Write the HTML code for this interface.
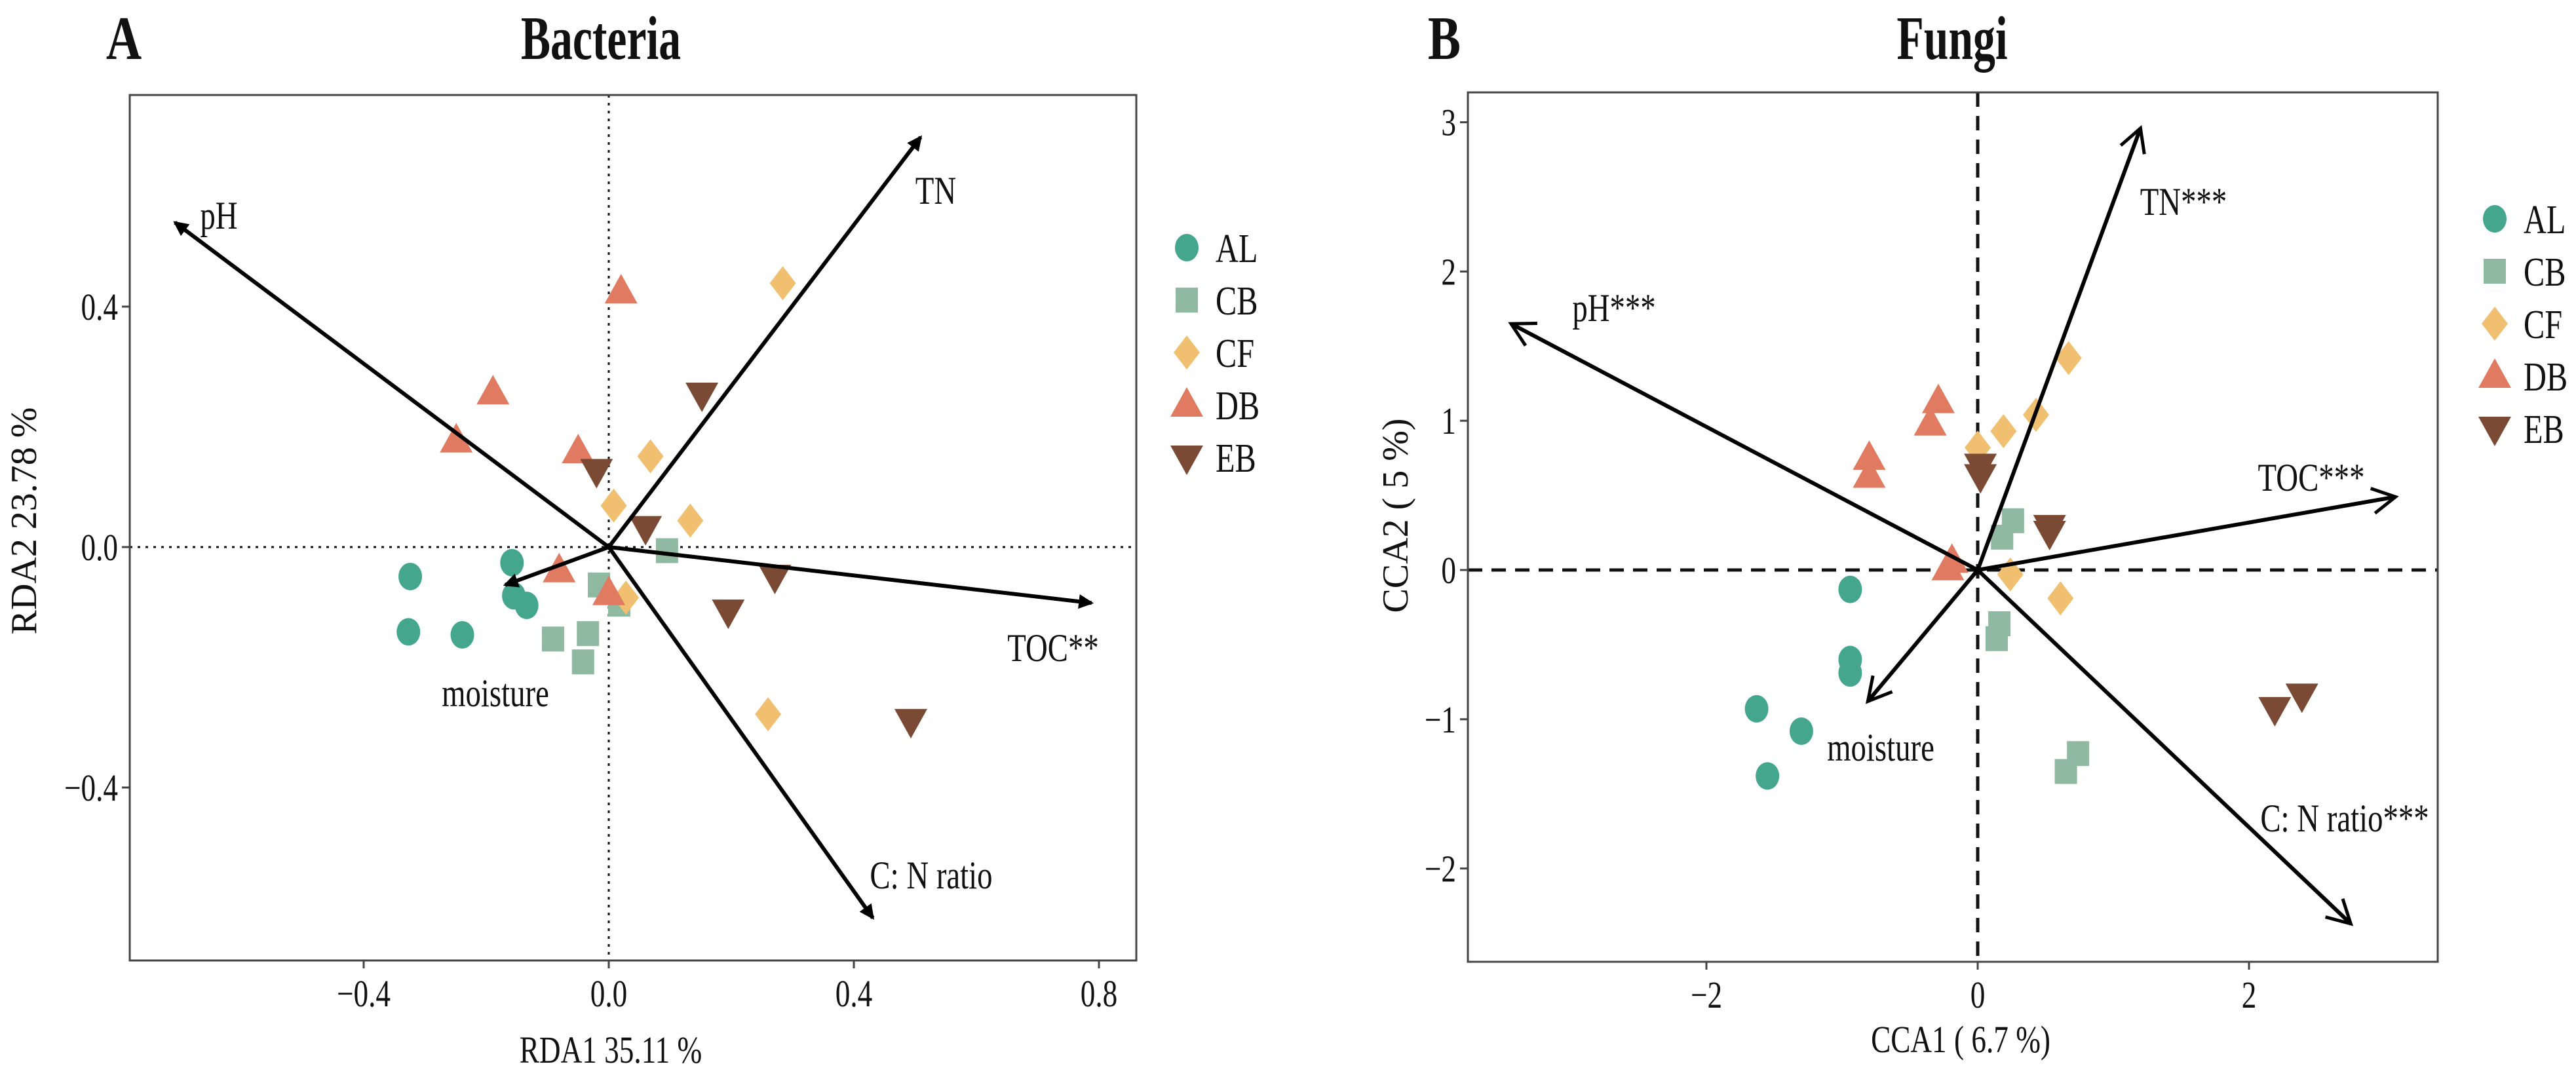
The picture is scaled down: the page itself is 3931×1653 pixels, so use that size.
<!DOCTYPE html>
<html><head><meta charset="utf-8"><style>
html,body{margin:0;padding:0;background:#fff;}
svg{display:block;font-family:"Liberation Serif",serif;}
</style></head><body>
<svg id="fig" width="3931" height="1653" viewBox="0 0 3931 1653" xmlns="http://www.w3.org/2000/svg"></svg>
<script>
// ---------- Panel A data (RDA, bacteria) ----------
const groups = ["AL","CB","CF","DB","EB"];
const colors = ["#43a68d","#8fb9a0","#f0c070","#e07a60","#7b4a35"];
const shapes = ["circle","square","diamond","up","down"];
const aALx = [-0.324,-0.327,-0.239,-0.158,-0.155,-0.134];
const aALy = [-0.049,-0.141,-0.146,-0.026,-0.081,-0.097];
const aCBx = [-0.091,-0.034,-0.042,-0.016,0.017,0.095];
const aCBy = [-0.153,-0.144,-0.191,-0.063,-0.095,-0.006];
const aCFx = [0.284,0.068,0.008,0.133,0.028,0.26];
const aCFy = [0.439,0.151,0.069,0.044,-0.084,-0.278];
const aDBx = [0.02,-0.189,-0.249,-0.05,-0.081,0.0];
const aDBy = [0.425,0.257,0.177,0.159,-0.039,-0.077];
const aEBx = [0.152,-0.02,0.06,0.271,0.195,0.493];
const aEBy = [0.254,0.127,0.032,-0.049,-0.107,-0.289];
const aVecNames = ["pH","TN","TOC**","C: N ratio","moisture"];
const aVecX = [-0.708,0.509,0.788,0.431,-0.169];
const aVecY = [0.54,0.682,-0.093,-0.617,-0.063];
const aXTicks = [-0.4,0.0,0.4,0.8];
const aXTickLabels = ["\u22120.4","0.0","0.4","0.8"];
const aYTicks = [0.4,0.0,-0.4];
const aYTickLabels = ["0.4","0.0","\u22120.4"];

// ---------- Panel B data (CCA, fungi) ----------
const bALx = [-0.94,-0.94,-0.94,-1.63,-1.30,-1.55];
const bALy = [-0.13,-0.60,-0.69,-0.93,-1.08,-1.38];
const bCBx = [0.26,0.18,0.16,0.14,0.74,0.65];
const bCBy = [0.33,0.22,-0.36,-0.46,-1.23,-1.35];
const bCFx = [0.67,0.43,0.19,0.0,0.24,0.61];
const bCFy = [1.42,1.04,0.93,0.82,-0.03,-0.19];
const bDBx = [-0.29,-0.35,-0.80,-0.80,-0.19,-0.22];
const bDBy = [1.13,0.98,0.75,0.63,0.06,0.01];
const bEBx = [0.02,0.02,0.53,0.53,2.19,2.39];
const bEBy = [0.70,0.63,0.29,0.25,-0.93,-0.84];
const bVecNames = ["TN***","pH***","TOC***","C: N ratio***","moisture"];
const bVecX = [1.2,-3.44,3.08,2.75,-0.81];
const bVecY = [2.96,1.65,0.49,-2.37,-0.88];
const bXTicks = [-2,0,2];
const bXTickLabels = ["\u22122","0","2"];
const bYTicks = [3,2,1,0,-1,-2];
const bYTickLabels = ["3","2","1","0","\u22121","\u22122"];

const NS="http://www.w3.org/2000/svg";
const svg=document.getElementById('fig');
function el(tag,attrs,parent){const e=document.createElementNS(NS,tag);for(const k in attrs)e.setAttribute(k,attrs[k]);(parent||svg).appendChild(e);return e;}
function txt(x,y,s,size,anchor,parent,opt){
  opt=opt||{};
  const t=el('text',{x:0,y:0,'font-size':size,'text-anchor':anchor||'start',fill:'#111',
    'font-weight':opt.bold?'bold':'normal',
    transform:`translate(${x},${y}) rotate(${opt.rot||0}) scale(${opt.sx||0.78},1)`},parent);
  t.textContent=s;return t;
}
function marker(shape,cx,cy,color,parent){
  let m;
  if(shape==="circle") m=el('ellipse',{cx:cx,cy:cy,rx:18,ry:21,fill:color},parent);
  else if(shape==="square") m=el('rect',{x:cx-17,y:cy-19,width:34,height:38,fill:color},parent);
  else if(shape==="diamond") m=el('polygon',{points:`${cx},${cy-26} ${cx+20},${cy} ${cx},${cy+26} ${cx-20},${cy}`,fill:color},parent);
  else if(shape==="up") m=el('polygon',{points:`${cx},${cy-27} ${cx+25},${cy+18} ${cx-25},${cy+18}`,fill:color},parent);
  else m=el('polygon',{points:`${cx},${cy+27} ${cx+25},${cy-18} ${cx-25},${cy-18}`,fill:color},parent);
  return m;
}

function panel(cfg){
  const g=el('g',{});
  
  
  const sx=v=>cfg.x0+v*cfg.kx, sy=v=>cfg.y0-v*cfg.ky;
  const pl=txt(cfg.letterX,cfg.titleY,cfg.letter,94,'middle',g,{bold:true,sx:0.8});
  
  const tt=txt(cfg.titleX,cfg.titleY,cfg.title,94,'middle',g,{bold:true,sx:0.72});
  
  const hl=el('line',{x1:cfg.box[0],x2:cfg.box[2],y1:sy(0),y2:sy(0),stroke:'#111','stroke-width':cfg.refW,'stroke-dasharray':cfg.dash},g);
  
  const vl=el('line',{x1:sx(0),x2:sx(0),y1:cfg.box[1],y2:cfg.box[3],stroke:'#111','stroke-width':cfg.refW,'stroke-dasharray':cfg.dash},g);
  
  const xs=cfg.px, ys=cfg.py;
  for(let gi=0;gi<groups.length;gi++){
    for(let i=0;i<xs[gi].length;i++){
      const m=marker(shapes[gi],sx(xs[gi][i]),sy(ys[gi][i]),colors[gi],g);
      
      
    }
  }
  for(let i=0;i<cfg.vn.length;i++){
    const x2=sx(cfg.vx[i]), y2=sy(cfg.vy[i]);
    const ln=el('line',{x1:sx(0),y1:sy(0),x2:x2,y2:y2,stroke:'#000','stroke-width':6},g);
    
    
    const ang=Math.atan2(y2-sy(0),x2-sx(0));
    const L=cfg.open?40:20, a=cfg.open?0.5:0.45;
    const p1=[x2-L*Math.cos(ang-a),y2-L*Math.sin(ang-a)], p2=[x2-L*Math.cos(ang+a),y2-L*Math.sin(ang+a)];
    let h;
    if(cfg.open) h=el('polyline',{points:`${p1} ${x2},${y2} ${p2}`,fill:'none',stroke:'#000','stroke-width':5},g);
    else h=el('polygon',{points:`${p1} ${x2},${y2} ${p2}`,fill:'#000',stroke:'#000','stroke-width':3},g);
    
    const lt=txt(cfg.lab[i][0],cfg.lab[i][1],cfg.vn[i],60,'middle',g);
    
  }
  const b=cfg.box;
  const fr=el('rect',{x:b[0],y:b[1],width:b[2]-b[0],height:b[3]-b[1],fill:'none',stroke:'#444','stroke-width':3},g);
  
  cfg.xt.forEach((v,i)=>{
    const tk=el('line',{x1:sx(v),x2:sx(v),y1:b[3],y2:b[3]+12,stroke:'#444','stroke-width':3},g);
    
    const tl=txt(sx(v),b[3]+70,cfg.xtl[i],58,'middle',g);
    
  });
  cfg.yt.forEach((v,i)=>{
    const tk=el('line',{x1:b[0]-12,x2:b[0],y1:sy(v),y2:sy(v),stroke:'#444','stroke-width':3},g);
    
    const tl=txt(b[0]-18,sy(v)+20,cfg.ytl[i],58,'end',g);
    
  });
  const xa=txt(cfg.xTitle[1],cfg.xTitle[2],cfg.xTitle[0],58,'middle',g);
  
  const ya=txt(cfg.yTitle[1],cfg.yTitle[2],cfg.yTitle[0],56,'middle',g,{rot:-90,sx:1.0});
  
  groups.forEach((gname,i)=>{
    const y=cfg.leg[1]+i*80;
    const lg=el('g',{},g);
    
    
    marker(shapes[i],cfg.leg[0],y,colors[i],lg);
    txt(cfg.leg[0]+44,y+22,gname,62,'start',lg);
  });
}

panel({name:'panel-a-bacteria',letter:'A',letterX:189,title:'Bacteria',titleX:917,titleY:90,
  x0:929,kx:935,y0:835,ky:917.5,box:[198,145,1734,1466],dash:'4 8',refW:3,open:false,
  px:[aALx,aCBx,aCFx,aDBx,aEBx],py:[aALy,aCBy,aCFy,aDBy,aEBy],
  vn:aVecNames,vx:aVecX,vy:aVecY,
  lab:[[334,349],[1428,311],[1607,1009],[1421,1356],[756,1078]],
  xt:aXTicks,xtl:aXTickLabels,yt:aYTicks,ytl:aYTickLabels,
  xTitle:['RDA1 35.11  %',932,1622],yTitle:['RDA2 23.78  %',55,795],leg:[1811,378]});

panel({name:'panel-b-fungi',letter:'B',letterX:2204,title:'Fungi',titleX:2979,titleY:90,
  x0:3018,kx:207,y0:870,ky:227.8,box:[2240,141,3720,1468],dash:'22 14',refW:5,open:true,
  px:[bALx,bCBx,bCFx,bDBx,bEBx],py:[bALy,bCBy,bCFy,bDBy,bEBy],
  vn:bVecNames,vx:bVecX,vy:bVecY,
  lab:[[3332,328],[2463,490],[3527,749],[3578,1269],[2870,1161]],
  xt:bXTicks,xtl:bXTickLabels,yt:bYTicks,ytl:bYTickLabels,
  xTitle:['CCA1 ( 6.7 %)',2992,1606],yTitle:['CCA2 ( 5 %)',2148,787],leg:[3807,334]});
</script>
</body></html>
